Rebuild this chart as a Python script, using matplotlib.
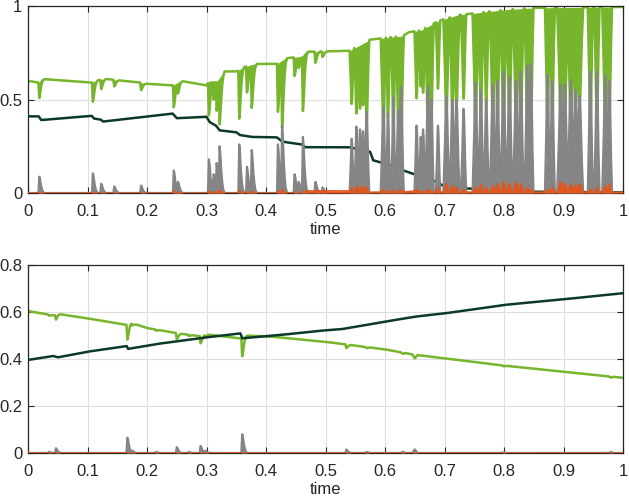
import numpy as np
import matplotlib
matplotlib.use("Agg")
import matplotlib.pyplot as plt

plt.rcParams['font.family'] = ['Liberation Sans', 'DejaVu Sans']

# ---------------- data ----------------
# top panel: light-green baseline breakpoints (time, value)
top_green_t = [0, 0.018, 0.022, 0.107, 0.113, 0.13, 0.19, 0.195, 0.243, 0.256, 0.30, 0.305,
               0.318, 0.325, 0.33, 0.352, 0.36, 0.38, 0.418, 0.432, 0.46, 0.466, 0.54,
               0.575, 0.63, 0.64, 0.66, 0.69, 0.72, 0.80, 0.85, 1.0]
top_green_v = [0.60, 0.59, 0.61, 0.59, 0.60, 0.61, 0.59, 0.585, 0.575, 0.60, 0.575, 0.60,
               0.60, 0.63, 0.65, 0.65, 0.67, 0.69, 0.69, 0.72, 0.73, 0.755, 0.76,
               0.82, 0.84, 0.86, 0.87, 0.92, 0.95, 0.98, 0.99, 0.995]
# top panel: dark-green breakpoints
top_dark_t = [0, 0.018, 0.022, 0.107, 0.111, 0.122, 0.126, 0.243, 0.25, 0.30, 0.305, 0.316,
              0.322, 0.35, 0.356, 0.375, 0.418, 0.427, 0.447, 0.46, 0.466, 0.54, 0.575,
              0.58, 0.597, 0.614, 0.625, 0.636, 0.653, 0.669, 0.686, 0.705, 0.78, 0.80, 1.0]
top_dark_v = [0.41, 0.41, 0.39, 0.413, 0.398, 0.393, 0.382, 0.425, 0.40, 0.408, 0.38, 0.36,
              0.335, 0.325, 0.31, 0.30, 0.298, 0.275, 0.265, 0.26, 0.245, 0.245, 0.22,
              0.175, 0.16, 0.145, 0.127, 0.115, 0.096, 0.079, 0.06, 0.026, 0.022, 0.008, 0.003]
# top panel: orange baseline breakpoints
top_orange_t = [0, 0.46, 0.47, 0.54, 0.545, 0.63, 0.65, 0.66, 0.70, 1.0]
top_orange_v = [0, 0, 0.012, 0.012, 0.004, 0.005, 0.012, 0.005, 0.005, 0.004]
# top panel: events (time, gray peak, width, orange peak)
top_ev_t = [0.019, 0.109, 0.123, 0.145, 0.19, 0.245, 0.252, 0.304, 0.312, 0.317, 0.322,
            0.355, 0.368, 0.376, 0.42, 0.427, 0.448, 0.455, 0.462, 0.483, 0.495,
            0.544, 0.552, 0.558, 0.563, 0.569, 0.597, 0.605, 0.614, 0.622, 0.627,
            0.653, 0.660, 0.664, 0.672, 0.678, 0.689, 0.703, 0.713, 0.720, 0.732,
            0.752, 0.761, 0.770, 0.781, 0.789, 0.799, 0.809, 0.820, 0.828, 0.839,
            0.845, 0.873, 0.881, 0.895, 0.902, 0.912, 0.920, 0.927, 0.945, 0.956,
            0.970, 0.977]
top_ev_peak = [0.087, 0.105, 0.05, 0.035, 0.04, 0.12, 0.06, 0.18, 0.10, 0.16, 0.25,
               0.26, 0.14, 0.23, 0.26, 0.36, 0.10, 0.06, 0.30, 0.06, 0.03,
               0.29, 0.355, 0.34, 0.33, 0.435, 0.46, 0.43, 0.51, 0.44, 0.57,
               0.36, 0.30, 0.34, 0.57, 0.50, 0.36, 0.52, 0.50, 0.50, 0.45,
               0.59, 0.55, 0.50, 0.58, 0.60, 0.65, 0.62, 0.60, 0.65, 0.68,
               0.69, 0.63, 0.60, 0.58, 0.58, 0.60, 0.55, 0.52, 0.65, 0.65,
               0.63, 0.60]
top_ev_w = [0.006] * 21 + [0.005, 0.005, 0.004, 0.004, 0.006, 0.006, 0.005, 0.005, 0.005, 0.006,
                           0.005, 0.004, 0.005, 0.006, 0.005, 0.005, 0.007, 0.006, 0.007, 0.006,
                           0.007, 0.006, 0.006, 0.007, 0.006, 0.007, 0.007, 0.007, 0.007, 0.006,
                           0.006, 0.006, 0.006, 0.008, 0.008, 0.008, 0.008, 0.008, 0.006, 0.006,
                           0.007, 0.006]
top_ev_orange = [0.003, 0.003, 0, 0, 0, 0.01, 0.005, 0.01, 0.005, 0.01, 0.015,
                 0.015, 0.005, 0.01, 0.01, 0.02, 0.005, 0, 0.01, 0, 0,
                 0.03, 0.04, 0.03, 0.04, 0.03, 0.02, 0.01, 0.02, 0.01, 0.02,
                 0.02, 0.01, 0.01, 0.02, 0.01, 0.03, 0.05, 0.04, 0.03, 0.02,
                 0.03, 0.05, 0.03, 0.04, 0.05, 0.06, 0.05, 0.06, 0.05, 0.03,
                 0.02, 0.02, 0.03, 0.06, 0.05, 0.05, 0.04, 0.05, 0.02, 0.03,
                 0.04, 0.05]

# bottom panel
bot_green_t = [0, 0.045, 0.05, 0.1, 0.165, 0.172, 0.2, 0.255, 0.29, 0.30, 0.357, 0.365,
               0.41, 0.5, 0.6, 0.65, 0.7, 0.8, 0.9, 1.0]
bot_green_v = [0.604, 0.585, 0.592, 0.573, 0.545, 0.555, 0.532, 0.508, 0.497, 0.505, 0.487, 0.50,
               0.495, 0.473, 0.441, 0.418, 0.403, 0.372, 0.346, 0.32]
bot_dark_t = [0, 0.042, 0.05, 0.1, 0.166, 0.168, 0.217, 0.293, 0.357, 0.36, 0.423, 0.49,
              0.527, 0.6, 0.65, 0.7, 0.8, 0.9, 1.0]
bot_dark_v = [0.396, 0.413, 0.407, 0.431, 0.455, 0.443, 0.464, 0.49, 0.509, 0.488, 0.502, 0.52,
              0.527, 0.559, 0.58, 0.594, 0.63, 0.654, 0.68]
bot_ev_t = [0.035, 0.047, 0.167, 0.175, 0.215, 0.25, 0.27, 0.29, 0.298, 0.36, 0.535, 0.57,
            0.63, 0.65, 0.80, 0.98]
bot_ev_peak = [0.005, 0.02, 0.065, 0.01, 0.005, 0.025, 0.005, 0.03, 0.01, 0.08, 0.015, 0.004,
               0.005, 0.015, 0.003, 0.004]
bot_ev_orange = [0, 0, 0.003, 0, 0, 0, 0, 0, 0, 0.002, 0, 0, 0, 0, 0, 0]

x_ticks = [0, 0.1, 0.2, 0.3, 0.4, 0.5, 0.6, 0.7, 0.8, 0.9, 1]
x_labels = ['0', '0.1', '0.2', '0.3', '0.4', '0.5', '0.6', '0.7', '0.8', '0.9', '1']
top_y_ticks = [0, 0.5, 1]
top_y_labels = ['0', '0.5', '1']
bot_y_ticks = [0, 0.2, 0.4, 0.6, 0.8]
bot_y_labels = ['0', '0.2', '0.4', '0.6', '0.8']

# ---------------- styles ----------------
C_GREEN = '#77b52c'
C_DARK = '#0c3a27'
C_GRAY = '#858585'
C_ORANGE = '#e4551c'
C_AX = '#262626'

# spike shapes (relative offsets in units of width, relative height)
# decaying spike (early, isolated events)
SHAPE_A_OFF = np.array([-0.25, 0.0, 0.15, 0.4, 0.7, 1.0, 1.4])
SHAPE_A_FR = np.array([0, 1, 0.9, 0.55, 0.25, 0.08, 0])
# column (late, bursting events)
SHAPE_B_OFF = np.array([-0.7, -0.35, -0.12, 0.0, 0.15, 0.42, 0.75])
SHAPE_B_FR = np.array([0, 0.45, 0.92, 1.0, 0.92, 0.4, 0])
LATE = 0.54

tgrid = np.linspace(0, 1, 10001)


def envelope(ts, peaks, widths):
    env = np.zeros_like(tgrid)
    for t0, p, w in zip(ts, peaks, widths):
        if t0 < LATE:
            off, fr = SHAPE_A_OFF, SHAPE_A_FR
        else:
            off, fr = SHAPE_B_OFF, SHAPE_B_FR
        e = np.interp(tgrid, t0 + off * w, p * fr, left=0, right=0)
        env = np.maximum(env, e)
    return env


def style(ax, yt, yl, ylim):
    ax.set_xlim(0, 1)
    ax.set_ylim(*ylim)
    ax.set_xticks(x_ticks)
    ax.set_xticklabels(x_labels)
    ax.set_yticks(yt)
    ax.set_yticklabels(yl)
    ax.grid(True, color='#dedede', linewidth=0.8)
    ax.set_axisbelow(True)
    ax.tick_params(direction='in', top=True, right=True, length=4, width=0.8,
                   colors=C_AX, labelsize=12)
    ax.tick_params(axis='x', pad=8)
    ax.tick_params(axis='y', pad=4)
    for s in ax.spines.values():
        s.set_color(C_AX)
        s.set_linewidth(0.9)
    ax.set_xlabel('time', fontsize=12, color=C_AX, labelpad=2)


fig = plt.figure(figsize=(6.29, 5.0), dpi=100)
ax1 = fig.add_axes([28 / 629, 1 - 193 / 500, 595 / 629, 187 / 500])
ax2 = fig.add_axes([28 / 629, 1 - 453 / 500, 595 / 629, 188 / 500])

# top panel
g_base = np.interp(tgrid, top_green_t, top_green_v)
d_line = np.interp(tgrid, top_dark_t, top_dark_v)
spk = envelope(top_ev_t, top_ev_peak, top_ev_w)
org = np.maximum(np.interp(tgrid, top_orange_t, top_orange_v),
                 envelope(top_ev_t, top_ev_orange, top_ev_w))
green = g_base - spk
ax1.fill_between(tgrid, green, g_base, color=C_GREEN, linewidth=0, zorder=2)
ax1.plot(tgrid, green, color=C_GREEN, lw=1.8, zorder=2)
ax1.plot(tgrid, d_line, color=C_DARK, lw=1.8, zorder=3)
ax1.fill_between(tgrid, 0, spk, color=C_GRAY, linewidth=0, zorder=4)
ax1.plot(tgrid, spk, color=C_GRAY, lw=1.6, zorder=4)
ax1.fill_between(tgrid, 0, org, color=C_ORANGE, linewidth=0, zorder=5)
ax1.plot(tgrid, org, color=C_ORANGE, lw=1.0, zorder=5)
style(ax1, top_y_ticks, top_y_labels, (0, 1))

# bottom panel
bg_base = np.interp(tgrid, bot_green_t, bot_green_v)
bd_line = np.interp(tgrid, bot_dark_t, bot_dark_v)
bspk = envelope(bot_ev_t, bot_ev_peak, [0.006] * len(bot_ev_t))
borg = envelope(bot_ev_t, bot_ev_orange, [0.006] * len(bot_ev_t))
ax2.plot(tgrid, bg_base - bspk, color=C_GREEN, lw=1.8, zorder=2)
ax2.plot(tgrid, bd_line, color=C_DARK, lw=1.8, zorder=3)
ax2.fill_between(tgrid, 0, bspk, color=C_GRAY, linewidth=0, zorder=4)
ax2.plot(tgrid, bspk, color=C_GRAY, lw=1.6, zorder=4)
ax2.plot(tgrid, borg, color=C_ORANGE, lw=1.0, zorder=5)
style(ax2, bot_y_ticks, bot_y_labels, (0, 0.8))

fig.savefig('out.png', dpi=100)
